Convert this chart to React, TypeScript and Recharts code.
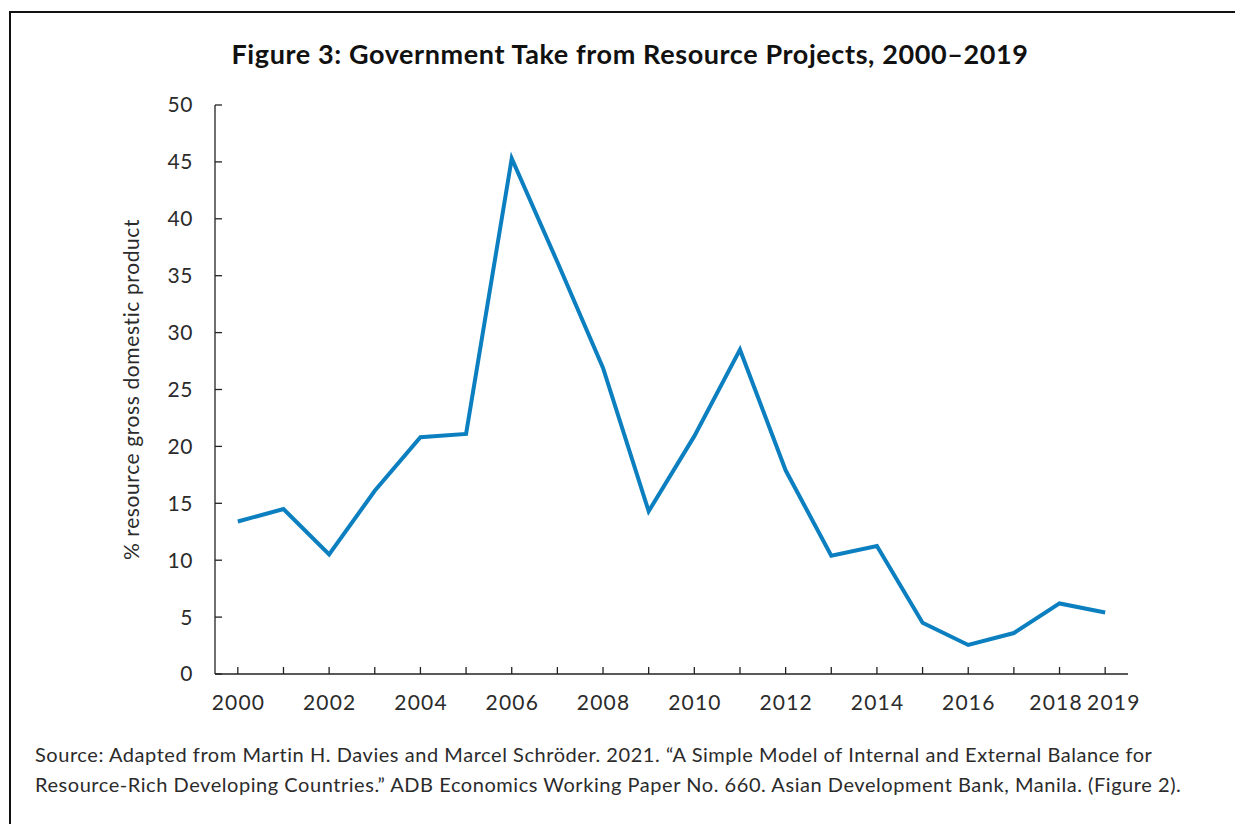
import React from 'react';
import { LineChart, Line, XAxis, YAxis } from 'recharts';

const years = [2000, 2001, 2002, 2003, 2004, 2005, 2006, 2007, 2008, 2009, 2010, 2011, 2012, 2013, 2014, 2015, 2016, 2017, 2018, 2019];
const govTake = [13.4, 14.5, 10.5, 16.1, 20.8, 21.1, 45.3, 36.2, 26.9, 14.3, 20.9, 28.5, 17.9, 10.4, 11.25, 4.5, 2.55, 3.6, 6.2, 5.4];
const labelledYears = [2000, 2002, 2004, 2006, 2008, 2010, 2012, 2014, 2016, 2018, 2019];
const yTicks = [0, 5, 10, 15, 20, 25, 30, 35, 40, 45, 50];

const FONT = 'Lato, "Open Sans", sans-serif';
const TEXT = '#2b2b2b';

const data = years.map((year, i) => ({ year, value: govTake[i] }));

// the last two labels sit close together, so push them apart a little
const labelNudge = (year: number) => (year === 2018 ? -4 : year === 2019 ? 8 : 0);

const XTick = (props: any) => {
  const { x, y, payload } = props;
  const showLabel = labelledYears.includes(payload.value);
  return (
    <g>
      <line x1={x} x2={x} y1={y - 21 - 7} y2={y - 21} stroke="#222" strokeWidth={1.3} />
      {showLabel && (
        <text
          x={x + 0.6 + labelNudge(payload.value)}
          y={y}
          dy="0.71em"
          textAnchor="middle"
          fill={TEXT}
          fontSize={21}
          fontFamily={FONT}
          style={{ letterSpacing: 1.2 }}
        >
          {payload.value}
        </text>
      )}
    </g>
  );
};

const YTick = (props: any) => {
  const { x, y, payload } = props;
  return (
    <g>
      <line x1={x + 22} x2={x + 29} y1={y} y2={y} stroke="#222" strokeWidth={1.3} />
      <text
        x={x}
        y={y}
        dy="0.355em"
        textAnchor="end"
        fill={TEXT}
        fontSize={21}
        fontFamily={FONT}
        style={{ letterSpacing: 0.6 }}
      >
        {payload.value}
      </text>
    </g>
  );
};

export default function App() {
  return (
    <div style={{ position: 'absolute', left: 0, top: 0, width: 1235, height: 824, overflow: 'hidden', background: '#fff' }}>
      <div
        style={{
          position: 'absolute',
          left: 9,
          top: 11,
          width: 1300,
          height: 900,
          borderTop: '2px solid #111',
          borderLeft: '2px solid #111',
        }}
      />
      <div
        style={{
          position: 'absolute',
          left: 0,
          top: 37,
          width: 1260,
          textAlign: 'center',
          fontFamily: FONT,
          fontWeight: 700,
          fontSize: 27,
          letterSpacing: 0.6,
          color: '#111',
        }}
      >
        Figure 3: Government Take from Resource Projects, 2000–2019
      </div>
      <div style={{ position: 'absolute', left: 0, top: 0 }}>
        <LineChart width={1235} height={824} data={data} margin={{ top: 105, right: 107, bottom: 110, left: 0 }}>
          <XAxis
            dataKey="year"
            type="number"
            domain={[1999.5, 2019.5]}
            ticks={years}
            interval={0}
            tickSize={0}
            tickMargin={21}
            tickLine={false}
            axisLine={{ stroke: '#222', strokeWidth: 1.3 }}
            tick={<XTick />}
            height={40}
          />
          <YAxis
            type="number"
            domain={[0, 50]}
            ticks={yTicks}
            interval={0}
            width={215}
            tickSize={0}
            tickMargin={22}
            tickLine={false}
            axisLine={{ stroke: '#222', strokeWidth: 1.3 }}
            tick={<YTick />}
            label={{
              value: '% resource gross domestic product',
              angle: -90,
              position: 'center',
              dx: 24,
              fill: TEXT,
              fontSize: 21,
              fontFamily: FONT,
              style: { letterSpacing: 0.6 },
            }}
          />
          <Line
            type="linear"
            dataKey="value"
            stroke="#0b7fbf"
            strokeWidth={4}
            dot={false}
            activeDot={false}
            isAnimationActive={false}
          />
        </LineChart>
      </div>
      <div
        style={{
          position: 'absolute',
          left: 35,
          top: 739,
          fontFamily: FONT,
          fontSize: 20,
          letterSpacing: 0.55,
          lineHeight: '30px',
          color: TEXT,
          whiteSpace: 'nowrap',
        }}
      >
        Source: Adapted from Martin H. Davies and Marcel Schröder. 2021. “A Simple Model of Internal and External Balance for
        <br />
        Resource-Rich Developing Countries.” ADB Economics Working Paper No. 660. Asian Development Bank, Manila. (Figure 2).
      </div>
    </div>
  );
}
